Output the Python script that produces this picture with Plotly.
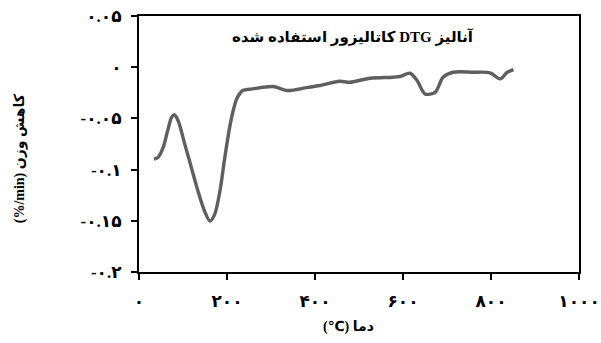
import plotly.graph_objects as go

temperature = [34, 43, 55, 65, 74, 80, 89, 104, 119, 134, 149, 161, 172, 184, 195, 206, 214, 222, 229, 236, 258, 304, 338, 381, 411, 456, 479, 525, 577, 593, 616, 632, 650, 673, 691, 714, 759, 798, 821, 837, 851]
dtg = [-0.0898, -0.0882, -0.0784, -0.0621, -0.0490, -0.0464, -0.0523, -0.0751, -0.0980, -0.1209, -0.1405, -0.1503, -0.1437, -0.1209, -0.0882, -0.0588, -0.0425, -0.0310, -0.0258, -0.0228, -0.0212, -0.0189, -0.0228, -0.0199, -0.0179, -0.0137, -0.0147, -0.0108, -0.0098, -0.0091, -0.0059, -0.0130, -0.0261, -0.0245, -0.0098, -0.0049, -0.0049, -0.0055, -0.0114, -0.0049, -0.0023]

x_tickvals = [0, 200, 400, 600, 800, 1000]
x_ticktext = ["۰", "۲۰۰", "۴۰۰", "۶۰۰", "۸۰۰", "۱۰۰۰"]
y_tickvals = [0.05, 0, -0.05, -0.1, -0.15, -0.2]
y_ticktext = ["۰.۰۵", "۰", "-۰.۰۵", "-۰.۱", "-۰.۱۵", "-۰.۲"]

# texts written in visual (left-to-right) order for the LTR SVG context
title_text = "کاتالیزور استفاده شده DTG آنالیز"
x_title = "(℃) دما"
y_title = "(%/min) کاهش وزن"

FONT = "Liberation Serif, DejaVu Sans"
BOLD = dict(family=FONT, size=14, color="black", weight="bold")
TICKF = dict(family=FONT, size=17, color="black", weight="bold")

fig = go.Figure()
fig.add_trace(go.Scatter(
    x=temperature, y=dtg, mode="lines",
    line=dict(color="#5f5f5f", width=3.4, shape="spline", smoothing=0.8),
    hoverinfo="skip", showlegend=False,
))

fig.update_layout(
    width=601, height=343,
    margin=dict(l=139, r=22, t=16, b=71, autoexpand=False),
    paper_bgcolor="white", plot_bgcolor="white",
    font=dict(family=FONT, color="black", size=13),
    xaxis=dict(
        range=[0, 1000], tickvals=x_tickvals, ticktext=x_ticktext,
        showgrid=False, zeroline=False, automargin=False,
        showline=True, linecolor="black", linewidth=2, mirror=True,
        ticks="outside", ticklen=6, tickwidth=1.5, tickcolor="black",
        tickfont=TICKF, ticklabelstandoff=7, ticklabeloverflow="allow",
    ),
    yaxis=dict(
        range=[-0.2, 0.05], tickvals=y_tickvals, ticktext=y_ticktext,
        showgrid=False, zeroline=False, automargin=False,
        showline=True, linecolor="black", linewidth=2, mirror=True,
        ticks="outside", ticklen=6, tickwidth=1.5, tickcolor="black",
        tickfont=TICKF, ticklabelstandoff=6, ticklabeloverflow="allow",
    ),
    annotations=[
        dict(text=title_text, xref="paper", yref="paper", x=0.486, y=0.918,
             xanchor="center", yanchor="middle", showarrow=False,
             font=dict(family=FONT, size=15, color="black", weight="bold")),
        dict(text=x_title, xref="paper", yref="paper", x=0.475, y=-0.215,
             xanchor="center", yanchor="middle", showarrow=False, font=BOLD),
        dict(text=y_title, xref="paper", yref="paper", x=-0.27, y=0.445,
             xanchor="center", yanchor="middle", showarrow=False, textangle=-90,
             font=BOLD),
    ],
)

# remove the page's default 8px body margin so the figure fills the window
fig.write_html("out.html", config={"displayModeBar": False},
               post_script="document.body.style.margin='0';")
